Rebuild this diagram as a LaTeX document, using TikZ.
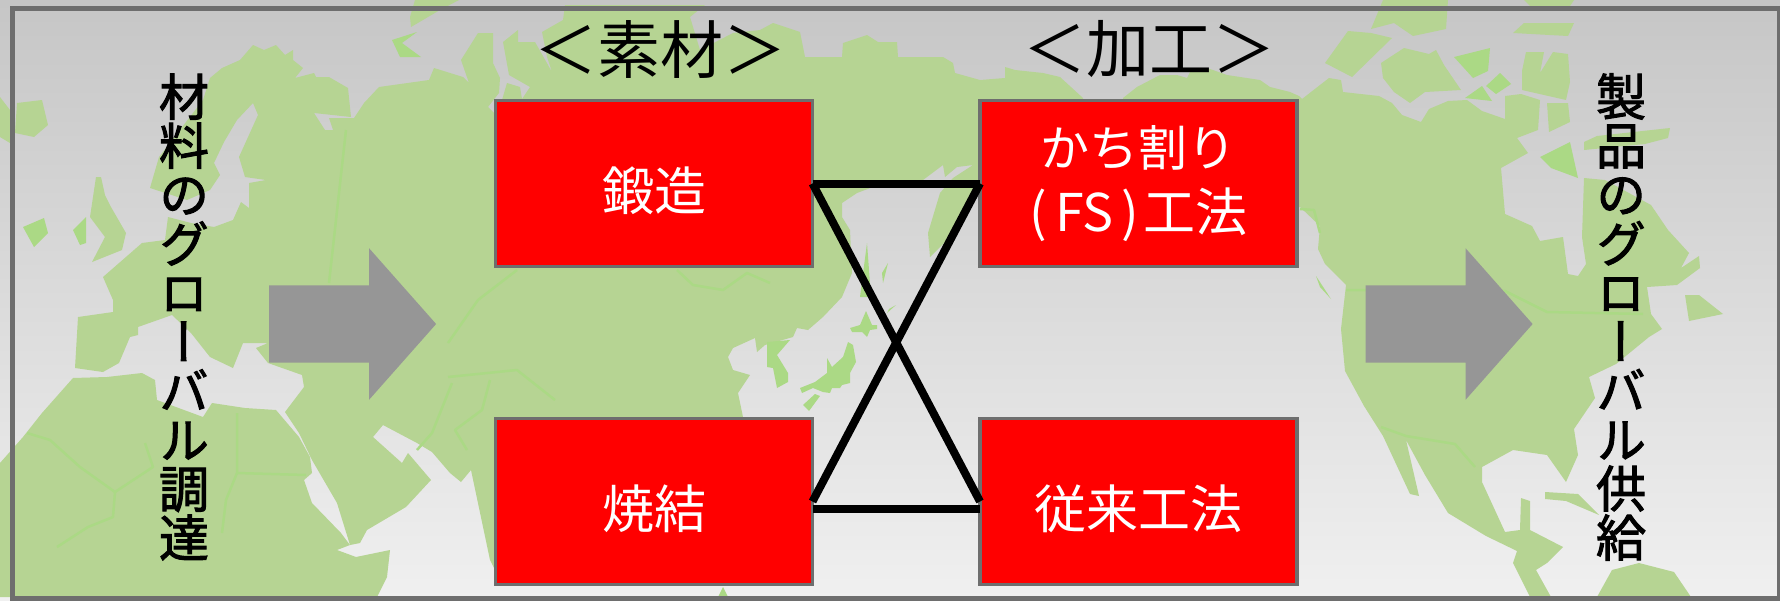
\documentclass[tikz,border=0pt]{standalone}
\usepackage{fontspec}
\usetikzlibrary{positioning,shapes.arrows}
\newfontfamily\jpfont{Noto Sans CJK JP}
\newfontfamily\tatefont[RawFeature=+vert, FakeBold=2]{Noto Sans CJK JP}
\definecolor{landgreen}{HTML}{B6D493}
\definecolor{isegreen}{HTML}{ABD985}
\definecolor{rimgray}{HTML}{6E6E6E}
\definecolor{arrowgray}{HTML}{969696}
\tikzset{
	land/.style = {fill=landgreen},
	isle/.style = {fill=isegreen},
	border/.style = {draw=isegreen, line width=2.5pt, line join=round},
	procbox/.style = {draw=rimgray, fill=red, line width=3.5pt, outer sep=0pt, inner sep=0pt, minimum width=317pt, minimum height=166pt, text=white, align=center, font=\jpfont\fontsize{52}{65}\selectfont, execute at begin node={\rule{0pt}{58pt}}},
	blockarrow/.style = {single arrow, fill=arrowgray, inner xsep=0pt, inner ysep=38.5pt, outer sep=0pt, minimum height=167pt, minimum width=151pt, single arrow head extend=37pt, single arrow tip angle=97, single arrow head indent=0pt},
	title/.style = {inner sep=0pt, font=\jpfont\fontsize{63}{63}\selectfont},
	tate/.style = {inner sep=0pt, align=center, font=\tatefont\fontsize{50}{49}\selectfont},
	link/.style = {draw=black, line width=8pt}
}
\begin{document}
\begin{tikzpicture}[x=1pt, y=-1pt, node distance={484.5pt}]
	\useasboundingbox (0,0) rectangle (1780,600);
	\shade[top color={rgb,255:red,198;green,198;blue,198}, bottom color={rgb,255:red,240;green,240;blue,240}] (0,0) rectangle (1780,600);
	% Eurasia
	\fill[land] (75,368) -- (78,317) -- (113,312) -- (113,300) -- (103,277) -- (142,243) -- (165,240) -- (168,217) -- (191,223) -- (214,227) -- (233,220) -- (241,202) -- (249,208) -- (249,183) -- (266,180) -- (245,177) -- (239,157) -- (258,115) -- (253,103) -- (237,120) -- (224,142) -- (214,163) -- (220,175) -- (210,190) -- (187,200) -- (150,188) -- (159,157) -- (203,100) -- (210,78) -- (222,68) -- (240,60) -- (253,45) -- (264,50) -- (276,45) -- (285,55) -- (293,50) -- (293,60) -- (303,68) -- (295,78) -- (314,73) -- (316,77) -- (329,77) -- (348,88) -- (351,117) -- (314,113) -- (325,130) -- (333,130) -- (329,118) -- (354,118) -- (364,103) -- (379,87) -- (429,80) -- (434,68) -- (463,77) -- (469,83) -- (461,60) -- (478,33) -- (493,33) -- (493,63) -- (500,78) -- (499,93) -- (488,107) -- (494,113) -- (502,100) -- (507,83) -- (520,87) -- (522,99) -- (530,87) -- (509,75) -- (503,42) -- (518,30) -- (518,42) -- (535,42) -- (552,72) -- (547,57) -- (542,32) -- (563,20) -- (565,5) -- (705,5) -- (690,17) -- (700,50) -- (733,33) -- (760,30) -- (773,23) -- (800,32) -- (805,57) -- (842,57) -- (843,43) -- (867,35) -- (878,42) -- (897,42) -- (898,57) -- (943,57) -- (953,63) -- (955,73) -- (980,80) -- (1005,78) -- (1005,67) -- (1015,70) -- (1043,73) -- (1060,77) -- (1083,98) -- (1083,120) -- (1000,120) -- (1000,180) -- (980,188) -- (963,210) -- (947,240) -- (930,257) -- (928,233) -- (940,193) -- (953,178) -- (973,165) -- (957,167) -- (945,177) -- (943,165) -- (923,180) -- (873,187) -- (857,193) -- (842,203) -- (842,217) -- (850,230) -- (852,273) -- (842,297) -- (823,317) -- (808,330) -- (797,328) -- (793,337) -- (765,345) -- (757,352) -- (755,338) -- (733,348) -- (728,357) -- (733,370) -- (750,375) -- (738,393) -- (743,417) -- (700,430) -- (495,570) -- (490,560) -- (471,470) -- (461,482) -- (450,473) -- (432,452) -- (417,443) -- (383,425) -- (373,437) -- (402,463) -- (408,453) -- (431,480) -- (406,507) -- (367,530) -- (360,543) -- (350,545) -- (337,503) -- (312,460) -- (299,433) -- (285,412) -- (304,387) -- (302,375) -- (268,363) -- (256,348) -- (268,343) -- (243,343) -- (233,368) -- (210,357) -- (191,333) -- (172,315) -- (138,327) -- (138,335) -- (130,337) -- (119,363) -- (103,372) -- cycle;
	% Africa
	\fill[land] (0,463) -- (23,437) -- (42,413) -- (73,378) -- (107,377) -- (142,373) -- (155,380) -- (157,400) -- (203,417) -- (212,403) -- (245,408) -- (276,410) -- (299,437) -- (310,457) -- (312,473) -- (304,480) -- (312,503) -- (341,533) -- (350,545) -- (337,550) -- (356,557) -- (390,550) -- (387,577) -- (377,597) -- (0,597) -- cycle;
	% North America
	\fill[land] (1123,98) -- (1137,87) -- (1160,75) -- (1177,75) -- (1187,78) -- (1190,72) -- (1210,69) -- (1227,75) -- (1260,80) -- (1270,87) -- (1290,92) -- (1299,96) -- (1302,99) -- (1329,78) -- (1341,80) -- (1343,92) -- (1379,96) -- (1392,103) -- (1402,115) -- (1421,122) -- (1429,109) -- (1448,101) -- (1467,100) -- (1482,111) -- (1505,119) -- (1505,96) -- (1521,94) -- (1540,100) -- (1538,130) -- (1517,138) -- (1528,153) -- (1501,168) -- (1505,214) -- (1532,226) -- (1540,241) -- (1563,237) -- (1568,274) -- (1578,276) -- (1586,264) -- (1582,237) -- (1584,178) -- (1605,180) -- (1651,205) -- (1668,230) -- (1689,253) -- (1681,268) -- (1699,256) -- (1700,268) -- (1677,285) -- (1647,287) -- (1651,314) -- (1662,329) -- (1649,337) -- (1616,364) -- (1589,377) -- (1595,398) -- (1574,429) -- (1578,455) -- (1566,482) -- (1547,455) -- (1513,450) -- (1482,467) -- (1482,482) -- (1505,532) -- (1520,530) -- (1521,498) -- (1530,501) -- (1530,530) -- (1563,547) -- (1547,563) -- (1536,570) -- (1551,597) -- (1530,597) -- (1513,563) -- (1517,551) -- (1486,536) -- (1448,513) -- (1425,475) -- (1406,440) -- (1419,496) -- (1410,494) -- (1383,436) -- (1364,406) -- (1345,371) -- (1341,329) -- (1346,285) -- (1325,264) -- (1318,249) -- (1320,226) -- (1300,207) -- (1250,207) -- (1123,130) -- cycle;
	% islands
	\fill[land] (1325,63) -- (1348,31) -- (1371,33) -- (1392,38) -- (1352,77) -- cycle;
	\fill[land] (1371,29) -- (1383,0) -- (1448,0) -- (1446,29) -- (1413,36) -- (1394,23) -- cycle;
	\fill[land] (1381,63) -- (1404,48) -- (1429,54) -- (1436,50) -- (1444,65) -- (1461,90) -- (1425,92) -- (1410,103) -- (1394,92) -- (1383,78) -- cycle;
	\fill[land] (1513,33) -- (1524,23) -- (1574,23) -- (1568,36) -- cycle;
	\fill[land] (1522,71) -- (1526,52) -- (1544,52) -- (1540,73) -- (1553,52) -- (1568,54) -- (1570,82) -- (1566,100) -- (1522,90) -- cycle;
	\fill[land] (1547,103) -- (1568,103) -- (1570,122) -- (1549,132) -- cycle;
	\fill[land] (1584,142) -- (1597,136) -- (1670,128) -- (1668,138) -- (1645,144) -- (1584,150) -- cycle;
	\fill[land] (1524,0) -- (1574,0) -- (1570,6) -- (1530,6) -- cycle;
	\fill[land] (1545,492) -- (1578,494) -- (1599,515) -- (1566,501) -- (1545,499) -- cycle;
	\fill[land] (1597,597) -- (1612,570) -- (1639,563) -- (1674,572) -- (1691,597) -- cycle;
	\fill[land] (1685,295) -- (1699,295) -- (1723,314) -- (1689,321) -- cycle;
	\fill[land] (415,0) -- (459,0) -- (440,10) -- (411,27) -- (410,17) -- cycle;
	\fill[land] (96,177) -- (101,177) -- (105,195) -- (111,207) -- (126,233) -- (122,250) -- (92,262) -- (105,237) -- (90,217) -- cycle;
	\fill[land] (17,103) -- (42,100) -- (48,125) -- (34,137) -- (15,133) -- cycle;
	\fill[land] (0,97) -- (10,110) -- (10,143) -- (0,137) -- cycle;
	\fill[isle] (392,40) -- (417,32) -- (402,43) -- (421,57) -- (400,57) -- cycle;
	\fill[isle] (1454,57) -- (1490,48) -- (1488,71) -- (1473,78) -- cycle;
	\fill[isle] (1486,86) -- (1500,73) -- (1511,84) -- (1496,94) -- cycle;
	\fill[isle] (1465,98) -- (1482,86) -- (1492,101) -- cycle;
	\fill[isle] (1540,157) -- (1570,142) -- (1578,178) -- (1551,168) -- cycle;
	\fill[isle] (1316,276) -- (1331,299) -- (1320,287) -- cycle;
	\fill[isle] (73,230) -- (86,217) -- (86,243) -- (80,245) -- cycle;
	\fill[isle] (23,227) -- (44,218) -- (48,233) -- (34,247) -- cycle;
	\fill[isle] (800,388) -- (815,382) -- (827,373) -- (827,358) -- (832,367) -- (843,357) -- (848,342) -- (853,345) -- (856,362) -- (850,373) -- (850,383) -- (842,385) -- (840,388) -- (832,388) -- (830,393) -- (823,392) -- (813,388) -- (802,393) -- cycle;
	\fill[isle] (850,328) -- (860,325) -- (866,311) -- (872,325) -- (877,325) -- (877,329) -- (870,330) -- (867,337) -- (862,332) -- (852,332) -- cycle;
	\fill[isle] (803,405) -- (815,394) -- (820,396) -- (809,411) -- cycle;
	\fill[isle] (767,342) -- (790,340) -- (777,355) -- (788,373) -- (788,382) -- (777,388) -- (773,368) -- (767,367) -- cycle;
	\fill[isle] (867,243) -- (871,297) -- (860,297) -- cycle;
	\fill[isle] (888,263) -- (883,283) -- (882,273) -- cycle;
	\fill[isle] (896,305) -- (887,313) -- (889,309) -- cycle;
	\fill[isle] (718,597) -- (723,587) -- (728,597) -- cycle;
	% borders
	\draw[border] (346,130) -- (329,283);
	\draw[border] (517,270) -- (478,300) -- (448,343);
	\draw[border] (448,377) -- (517,370) -- (555,400);
	\draw[border] (452,383) -- (432,433) -- (417,450);
	\draw[border] (490,380) -- (482,410) -- (455,430) -- (467,450);
	\draw[border] (677,270) -- (693,285) -- (723,290) -- (747,273) -- (770,283);
	\draw[border] (27,433) -- (50,440) -- (80,467) -- (115,492) -- (153,467) -- (145,443);
	\draw[border] (115,492) -- (113,517) -- (88,527) -- (57,547);
	\draw[border] (237,413) -- (237,473) -- (226,500) -- (222,533);
	\draw[border] (237,473) -- (306,475);
	\draw[border] (1346,290) -- (1463,290) -- (1505,291) -- (1547,312) -- (1643,314);
	\draw[border] (1381,427) -- (1406,436) -- (1455,444) -- (1475,467);
	\draw[border] (1300,209) -- (1314,210) -- (1320,233);
	% frame
	\draw[draw=rimgray, line width=5pt] (12.5,8) rectangle (1779,598);
	\node[blockarrow] (inarrow) at (335.5,324) {};
	\node[blockarrow] (outarrow) at (1432,324) {};
	\node[procbox] (forge) at (654,183.5) {鍛造};
	\node[procbox] (fs) [right of=forge] {{\fontsize{49}{65}\selectfont かち割り}\\(\hspace{8pt}FS\hspace{8pt})\hspace{4pt}工法};
	\node[procbox] (sinter) [below of=forge, node distance={318pt}] {焼結};
	\node[procbox] (conv) [below of=fs, node distance={318pt}] {従来工法};
	\node[title] (mattitle) at (660,49) {＜素材＞};
	\node[title] (proctitle) at (1149,49) {＜加工＞};
	\node[tate] (procure) at (184,317) {材\\料\\の\\グ\\ロ\\ー\\バ\\ル\\調\\達};
	\node[tate] (supply) at (1621,317) {製\\品\\の\\グ\\ロ\\ー\\バ\\ル\\供\\給};
	\draw[link] (forge) -- (fs);
	\draw[link] (forge.east) -- (conv.west);
	\draw[link] (sinter.east) -- (fs.west);
	\draw[link] ([yshift=-7.5pt]sinter.east) -- ([yshift=-7.5pt]conv.west);
\end{tikzpicture}
\end{document}
